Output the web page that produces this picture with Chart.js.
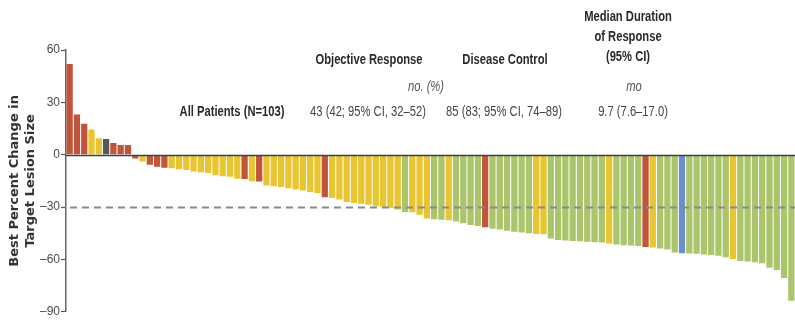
<!DOCTYPE html>
<html>
<head>
<meta charset="utf-8">
<script src="https://cdn.jsdelivr.net/npm/chart.js@4"></script>
<style>
  html, body { margin: 0; padding: 0; background: #fff; overflow: hidden; }
  #wrap { position: relative; width: 795px; height: 320px; }
</style>
</head>
<body>
<div id="wrap"><canvas id="waterfallChart"></canvas></div>
<script>
// best percent change in target lesion size, one bar per patient, sorted
let changeValues = [
  52, 23, 17.7, 14.5, 9.4, 9.0, 6.7, 5.6, 5.6, -2.2, -3.9, -5.8, -6.9, -7.5,
  -7.7, -8.3, -8.8, -9.6, -10.0, -10.5, -11.8, -12.3, -12.6, -13.8,
  -13.9, -15.2, -15.4, -17.7, -18.0, -18.5, -19.2, -19.9, -20.5, -21.4, -21.9, -24.3,
  -24.8, -25.6, -27.1, -27.6, -28.1, -28.6, -29.5, -30.0, -30.5, -31.4,
  -32.8, -33.0, -34.4, -36.5, -37.0, -37.2, -37.6, -38.2, -39.2, -40.2, -40.9, -41.5,
  -42.4, -42.9, -43.6, -44.1, -44.6, -45.0, -45.4, -45.6, -48.0, -48.8,
  -49.1, -49.4, -49.6, -49.9, -50.2, -50.3, -50.9, -51.4, -51.8, -52.0, -52.3, -52.9,
  -53.2, -53.7, -54.3, -56.0, -56.5, -56.6, -56.8, -57.1, -57.4, -57.9, -58.8, -59.8,
  -60.9, -61.2, -61.6, -62.2, -64.7, -66.0, -70.7, -83.6
];

// best overall response per patient (same order)
let bestResponse = [
  'PD','PD','PD','SD','SD','NE','PD','PD','PD','PD','SD','PD','PD','PD',
  'SD','SD','SD','SD','SD','SD','SD','SD','SD','SD',
  'PD','SD','PD','SD','SD','SD','SD','SD','SD','SD','SD','PD',
  'SD','SD','SD','SD','SD','SD','SD','SD','SD','SD',
  'PR','SD','SD','SD','PR','PR','SD','PR','PR','PR','PR','PD',
  'PR','PR','PR','PR','PR','PR','SD','SD','PR','PR',
  'PR','PR','PR','PR','PR','PR','SD','PR','PR','PR','PR','PD',
  'SD','PR','PR','PR','CR','PR','PR','PR','PR','PR','PR','SD',
  'PR','PR','PR','PR','PR','PR','PR','PR'
];

let patientLabels = changeValues.map((v, i) => 'Patient ' + (i + 1));

let yTicks = [60, 30, 0, -30, -60, -90];
let responseThreshold = -30;

let responseColors = {
  PD: '#c1553b',
  SD: '#e9c631',
  PR: '#abc56c',
  CR: '#6b8ecd',
  NE: '#585858'
};

let textFont = "'Liberation Sans', Arial, sans-serif";
let squeeze = 0.8; // the original uses a condensed face

// header table drawn above the bars
let headerTexts = [
  { t: 'Objective Response', x: 369, y: 60, bold: true },
  { t: 'Disease Control', x: 505, y: 60, bold: true },
  { t: 'Median Duration', x: 628, y: 17, bold: true },
  { t: 'of Response', x: 628, y: 37, bold: true },
  { t: '(95% CI)', x: 628, y: 57, bold: true },
  { t: 'no. (%)', x: 426, y: 87, italic: true },
  { t: 'mo', x: 634, y: 87, italic: true },
  { t: 'All Patients (N=103)', x: 232, y: 112, bold: true },
  { t: '43 (42; 95% CI, 32\u201352)', x: 368, y: 112 },
  { t: '85 (83; 95% CI, 74\u201389)', x: 504, y: 112 },
  { t: '9.7 (7.6\u201317.0)', x: 633, y: 112 }
];

let refLinesPlugin = {
  id: 'refLines',
  afterDatasetsDraw(chart) {
    let ctx = chart.ctx;
    let area = chart.chartArea;
    let y = chart.scales.y;
    ctx.save();
    // dashed -30% line
    let yd = Math.round(y.getPixelForValue(responseThreshold)) + 0.5;
    ctx.strokeStyle = '#8a8a8a';
    ctx.lineWidth = 2;
    ctx.setLineDash([7, 5]);
    ctx.beginPath();
    ctx.moveTo(area.left + 4, yd);
    ctx.lineTo(area.right, yd);
    ctx.stroke();
    // zero line
    let y0 = Math.round(y.getPixelForValue(0)) + 0.5;
    ctx.setLineDash([]);
    ctx.strokeStyle = '#3f3f3f';
    ctx.lineWidth = 1.5;
    ctx.beginPath();
    ctx.moveTo(area.left, y0);
    ctx.lineTo(area.right, y0);
    ctx.stroke();
    ctx.restore();
  },
  afterDraw(chart) {
    let ctx = chart.ctx;
    ctx.textAlign = 'center';
    ctx.textBaseline = 'middle';
    headerTexts.forEach(h => {
      let style = h.italic ? 'italic ' : '';
      let weight = h.bold ? 'bold ' : '';
      ctx.save();
      ctx.font = style + weight + '14px ' + textFont;
      ctx.fillStyle = h.italic ? '#555' : (h.bold ? '#2a2a2a' : '#444');
      ctx.translate(h.x, h.y);
      ctx.scale(squeeze, 1);
      ctx.fillText(h.t, 0, 0);
      ctx.restore();
    });
  }
};

let waterfallCtx = document.getElementById('waterfallChart').getContext('2d');
let waterfallChart = new Chart(waterfallCtx, {
  type: 'bar',
  data: {
    labels: patientLabels,
    datasets: [
      {
        label: 'Best percent change',
        data: changeValues,
        backgroundColor: bestResponse.map(r => responseColors[r]),
        borderWidth: 0,
        barPercentage: 0.86,
        categoryPercentage: 1.0
      }
    ]
  },
  options: {
    responsive: true,
    maintainAspectRatio: false,
    animation: false,
    layout: { padding: { top: 50, bottom: 7, left: 0, right: 0 } },
    plugins: {
      legend: { display: false },
      tooltip: { enabled: false }
    },
    scales: {
      x: {
        display: false,
        offset: true
      },
      y: {
        min: -90,
        max: 60,
        afterBuildTicks: s => { s.ticks = yTicks.map(v => ({ value: v })); },
        afterFit: s => { s.width = 66; },
        ticks: {
          color: '#4a4a4a',
          padding: 1,
          font: { family: textFont, size: 12 },
          callback: v => String(v).replace('-', '\u2013')
        },
        grid: {
          drawOnChartArea: false,
          drawTicks: true,
          tickLength: 5,
          tickColor: '#555',
          tickWidth: 1.2
        },
        border: { color: '#666', width: 1.5 },
        title: {
          display: true,
          text: ['Best Percent Change in', 'Target Lesion Size'],
          color: '#333',
          font: { family: "'DejaVu Sans', sans-serif", size: 13, weight: 'bold', lineHeight: 1.2 },
          padding: { top: 7, bottom: 0 }
        }
      }
    }
  },
  plugins: [refLinesPlugin]
});
</script>
</body>
</html>
